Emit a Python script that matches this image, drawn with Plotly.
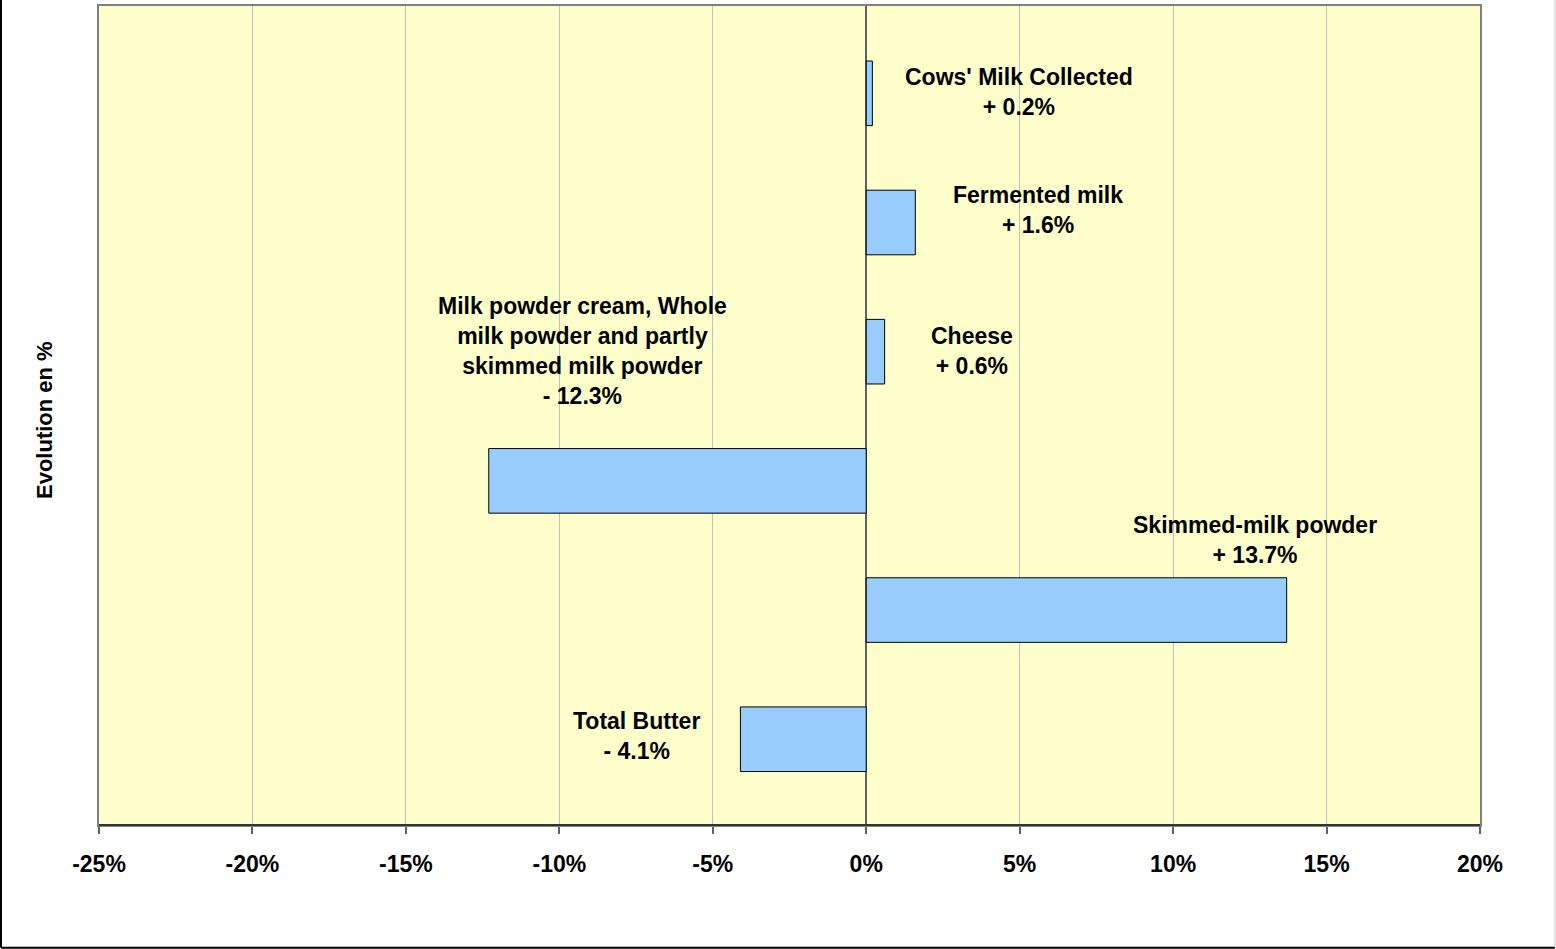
import plotly.graph_objects as go

# Data (bottom to top)
categories = ["Total Butter", "Skimmed-milk powder",
              "Milk powder cream, Whole<br>milk powder and partly<br>skimmed milk powder",
              "Cheese", "Fermented milk", "Cows' Milk Collected"]
values = [-4.1, 13.7, -12.3, 0.6, 1.6, 0.2]
tick_vals = [-25, -20, -15, -10, -5, 0, 5, 10, 15, 20]
tick_text = ["-25%", "-20%", "-15%", "-10%", "-5%", "0%", "5%", "10%", "15%", "20%"]

# Label placement (data coordinates)
label_x = [-7.49, 12.66, -9.25, 3.45, 5.6, 4.99]
label_y = [0.025, 1.54, 3.005, 3.005, 4.10, 5.01]

FONT = "Arial, 'Liberation Sans', sans-serif"

ypos = list(range(len(categories)))

fig = go.Figure()
fig.add_trace(go.Bar(
    x=values, y=ypos, orientation="h", width=0.5,
    marker=dict(color="#99CCFF", line=dict(color="#000000", width=1)),
    hoverinfo="x",
    showlegend=False,
))

def fmt(v):
    return ("+ " if v >= 0 else "- ") + f"{abs(v):.1f}%"

annotations = []
for c, v, lx, ly in zip(categories, values, label_x, label_y):
    annotations.append(dict(
        x=lx, y=ly, xref="x", yref="y", text=f"<b>{c}<br>{fmt(v)}</b>",
        showarrow=False, xanchor="center", yanchor="middle", align="center",
        font=dict(family=FONT, size=23, color="#000000"),
    ))

W, H = 1556, 949
L, R, T, B = 99, 1480, 4, 825
pw, ph = R - L, B - T

def px(xp):
    return (xp - L) / pw

def py(yp):
    return (B - yp) / ph

annotations.append(dict(
    x=px(45), y=py(419), xref="paper", yref="paper",
    text="<b>Evolution en %</b>", textangle=-90, showarrow=False,
    xanchor="center", yanchor="middle",
    font=dict(family=FONT, size=22, color="#000000"),
))

shapes = [
    # outer border
    dict(type="line", xref="paper", yref="paper", x0=px(1), x1=px(1), y0=py(-5), y1=py(948),
         line=dict(color="#000000", width=2)),
    dict(type="line", xref="paper", yref="paper", x0=px(1), x1=px(1555), y0=py(948), y1=py(948),
         line=dict(color="#000000", width=2)),
    dict(type="line", xref="paper", yref="paper", x0=px(1555), x1=px(1555), y0=py(-5), y1=py(948),
         line=dict(color="#C8C8C8", width=1)),
    # bottom axis line darker
    dict(type="line", xref="paper", yref="paper", x0=0, x1=1, y0=0, y1=0,
         line=dict(color="#333333", width=2)),
]

fig.update_layout(
    width=W, height=H,
    margin=dict(l=L, r=W - R, t=T, b=H - B, pad=0),
    paper_bgcolor="#FFFFFF",
    plot_bgcolor="#FFFFCC",
    font=dict(family=FONT, size=23, color="#000000"),
    bargap=0.5,
    annotations=annotations,
    shapes=shapes,
    xaxis=dict(
        range=[-25, 20], tickvals=tick_vals, ticktext=tick_text,
        showgrid=True, gridcolor="#C0C0C0", gridwidth=1,
        zeroline=True, zerolinecolor="#606060", zerolinewidth=2,
        showline=True, linecolor="#808080", linewidth=2, mirror=True,
        ticks="outside", ticklen=7, tickcolor="#606060", tickwidth=2,
        tickfont=dict(family=FONT, size=23, color="#000000", weight="bold"),
        ticklabelstandoff=10,
        fixedrange=True,
    ),
    yaxis=dict(
        range=[-0.664, 5.676], showticklabels=False, showgrid=False,
        zeroline=False, showline=True, linecolor="#808080", linewidth=2, mirror=True,
        ticks="", fixedrange=True,
    ),
)

fig.write_html("out.html", config={"displayModeBar": False},
               post_script="document.body.style.margin='0px';document.body.style.overflow='hidden';")
